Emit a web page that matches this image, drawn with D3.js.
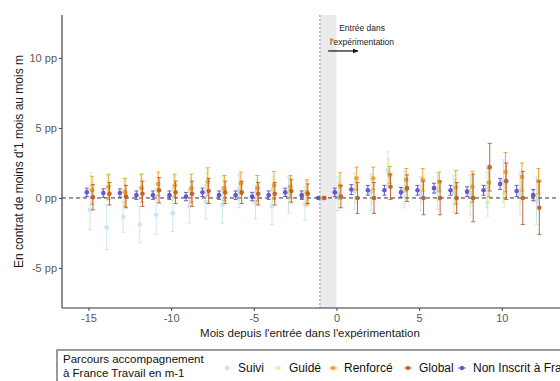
<!DOCTYPE html>
<html><head><meta charset="utf-8">
<script src="https://cdn.jsdelivr.net/npm/d3@7"></script>
<style>body{margin:0;background:#fff;overflow:hidden}svg{display:block;font-family:"Liberation Sans",Arial,sans-serif}</style>
</head><body><svg id="c" width="560" height="381"></svg>
<script>
const months = [-15,-14,-13,-12,-11,-10,-9,-8,-7,-6,-5,-4,-3,-2,-1,0,1,2,3,4,5,6,7,8,9,10,11,12];
const seriesNames = ["Suivi","Guidé","Renforcé","Global","Non Inscrit à France Travail"];
const suiviVal = [-0.85,-2.1,-1.35,-1.9,-1.2,-1.1,-0.6,-0.3,-0.5,0.5,-0.3,-0.6,0.2,-0.4,0,0.3,0.5,0.4,2.0,0.6,0.3,0.5,0.3,0.2,0.8,1.2,0.3,-0.2];
const suiviErr = [1.4,1.6,1.1,1.3,1.4,1.3,1.2,1.2,1.3,1.2,1.2,1.3,1.3,1.2,0,1.2,1.3,1.3,1.3,1.3,1.2,1.3,1.3,1.4,1.5,1.5,1.5,1.7];
const guideVal = [0.9,0.7,0.5,0.8,0.6,0.7,0.5,0.9,0.6,0.7,0.4,0.6,0.5,0.3,0,0.2,0.6,0.5,1.8,0.5,0.6,0.7,0.4,0.5,-0.3,0.3,0.6,0.2];
const guideErr = [0.9,0.9,0.9,0.9,0.9,0.9,0.9,0.9,0.9,0.9,0.9,0.9,0.9,0.9,0,0.9,0.9,0.9,1.0,0.9,0.9,0.9,0.9,1.0,1.0,1.0,1.0,1.0];
const renforceVal = [0.55,0.8,0.4,0.7,1.0,0.9,0.7,1.15,0.7,1.05,0.7,0.9,0.8,0.4,0,0.85,1.4,1.4,1.65,1.3,1.3,1.15,0.75,0.8,1.1,1.85,1.5,1.2];
const renforceErr = [1.0,0.9,1.0,1.0,0.85,0.8,1.0,1.0,0.9,0.8,0.9,1.0,0.8,0.9,0,0.95,0.8,0.8,0.6,0.8,0.8,0.7,1.2,1.1,1.0,1.4,1.0,0.9];
const globalVal = [0.05,0.3,0.1,0.3,0.55,0.4,0.3,0.5,0.4,0.4,0.3,0.3,0.5,0.3,0,0.1,0.0,0.0,0.8,0.7,0.0,0.0,0.0,0.0,2.2,1.2,0.0,-0.7];
const globalErr = [0.9,0.8,0.8,0.9,0.9,0.8,0.9,0.9,0.8,0.8,0.8,0.8,0.8,0.7,0,0.8,1.1,1.1,0.9,0.95,1.2,1.2,1.1,1.7,1.7,1.3,1.9,1.9];
const nonInscritVal = [0.4,0.35,0.35,0.2,0.2,0.2,0.1,0.4,0.2,0.2,0.1,0.2,0.4,0.2,0,0.4,0.6,0.55,0.55,0.4,0.55,0.7,0.55,0.45,0.55,1.0,0.5,0.2];
const nonInscritErr = [0.3,0.3,0.3,0.3,0.3,0.3,0.3,0.3,0.3,0.3,0.3,0.3,0.3,0.3,0,0.3,0.35,0.35,0.35,0.35,0.35,0.35,0.35,0.35,0.35,0.4,0.4,0.4];
const xTicks = [-15,-10,-5,0,5,10];
const yTicks = [-5,0,5,10];
const yTickLabels = ["-5 pp","0 pp","5 pp","10 pp"];

const vals = [suiviVal, guideVal, renforceVal, globalVal, nonInscritVal];
const errs = [suiviErr, guideErr, renforceErr, globalErr, nonInscritErr];
const colors = ["#8ecae6","#d6dc6a","#f39a1c","#c0561b","#4f3bc4"];
const opac = [0.45,0.5,0.9,0.9,0.85];
const dodge = [0.1,0.15,0.22,0.27,-0.1];

const svg = d3.select("#c");
const L = 62, R = 558, T = 15, B = 308;
const x = d3.scaleLinear().domain([-16.6, 13.4]).range([L, R]);
const y = d3.scaleLinear().domain([-7.86, 13.07]).range([B, T]);

svg.append("rect").attr("x", x(-1)).attr("y", T).attr("width", x(0) - x(-1)).attr("height", B - T).attr("fill", "#ebebeb");
svg.append("line").attr("x1", x(-1)).attr("x2", x(-1)).attr("y1", T).attr("y2", B)
  .attr("stroke", "#8a8a8a").attr("stroke-width", 1).attr("stroke-dasharray", "2,2");
svg.append("line").attr("x1", L).attr("x2", R).attr("y1", y(0)).attr("y2", y(0))
  .attr("stroke", "#333").attr("stroke-width", 1).attr("stroke-dasharray", "4,3");

const g = svg.append("g");
vals.forEach((v, si) => {
  const s = g.append("g").attr("opacity", opac[si]);
  months.forEach((m, i) => {
    const cx = x(m + dodge[si]);
    const e = errs[si][i];
    if (e > 0) {
      s.append("line").attr("x1", cx).attr("x2", cx).attr("y1", y(v[i] - e)).attr("y2", y(v[i] + e))
        .attr("stroke", colors[si]).attr("stroke-width", 1);
      [v[i] - e, v[i] + e].forEach(yy => s.append("line").attr("x1", cx - 2).attr("x2", cx + 2)
        .attr("y1", y(yy)).attr("y2", y(yy)).attr("stroke", colors[si]).attr("stroke-width", 1));
    }
    s.append("circle").attr("cx", cx).attr("cy", y(v[i])).attr("r", 2.3).attr("fill", colors[si]);
  });
});

const yAxis = d3.axisLeft(y).tickValues(yTicks).tickFormat((d, i) => yTickLabels[i]).tickSize(3).tickPadding(2);
const ya = svg.append("g").attr("transform", `translate(${L},0)`).call(yAxis);
const xAxis = d3.axisBottom(x).tickValues(xTicks).tickFormat(d => d < 0 ? "-" + Math.abs(d) : d).tickSize(3).tickPadding(3);
const xa = svg.append("g").attr("transform", `translate(0,${B})`).call(xAxis);
[ya, xa].forEach(a => {
  a.select(".domain").remove();
  a.selectAll(".tick line").attr("stroke", "#444");
  a.selectAll(".tick text").attr("fill", "#5a5a5a").style("font-size", "11px").style("font-family", "Liberation Sans, Arial, sans-serif");
});
svg.append("line").attr("x1", L).attr("x2", L).attr("y1", T).attr("y2", B).attr("stroke", "#333").attr("stroke-width", 1.1);
svg.append("line").attr("x1", L).attr("x2", R + 10).attr("y1", B).attr("y2", B).attr("stroke", "#333").attr("stroke-width", 1.1);

svg.append("text").attr("x", (L + R) / 2).attr("y", 337).attr("text-anchor", "middle")
  .style("font-size", "11.5px").attr("fill", "#1a1a1a").text("Mois depuis l'entrée dans l'expérimentation");
svg.append("text").attr("transform", `translate(23,${(T + B) / 2}) rotate(-90)`).attr("text-anchor", "middle")
  .style("font-size", "12px").attr("fill", "#1a1a1a").text("En contrat de moins d'1 mois au mois m");

svg.append("defs").append("marker").attr("id", "ah").attr("viewBox", "0 0 10 10").attr("refX", 9).attr("refY", 5)
  .attr("markerWidth", 5).attr("markerHeight", 5).attr("orient", "auto")
  .append("path").attr("d", "M0,1 L10,5 L0,9 Z").attr("fill", "#111");
svg.append("line").attr("x1", x(-0.5)).attr("x2", x(1.3)).attr("y1", y(10.5)).attr("y2", y(10.5))
  .attr("stroke", "#111").attr("stroke-width", 1.2).attr("marker-end", "url(#ah)");
svg.append("text").attr("x", x(1.55)).attr("y", y(11.95)).attr("text-anchor", "middle").style("font-size", "8.5px").attr("fill", "#222").text("Entrée dans");
svg.append("text").attr("x", x(1.55)).attr("y", y(10.95)).attr("text-anchor", "middle").style("font-size", "8.5px").attr("fill", "#222").text("l'expérimentation");

const lg = svg.append("g");
lg.append("rect").attr("x", 57).attr("y", 350).attr("width", 560).attr("height", 45)
  .attr("fill", "#fff").attr("stroke", "#7a7a7a").attr("stroke-width", 1.5);
lg.append("text").attr("x", 63).attr("y", 363).style("font-size", "11.5px").attr("fill", "#111").text("Parcours accompagnement");
lg.append("text").attr("x", 63).attr("y", 377).style("font-size", "11.5px").attr("fill", "#111").text(" à France Travail en m-1");
const keyX = [227, 278, 333, 408, 462];
seriesNames.forEach((n, i) => {
  const k = lg.append("g").attr("opacity", opac[i]);
  k.append("line").attr("x1", keyX[i] - 4).attr("x2", keyX[i] + 4).attr("y1", 368).attr("y2", 368).attr("stroke", colors[i]).attr("stroke-width", 1);
  k.append("circle").attr("cx", keyX[i]).attr("cy", 368).attr("r", 2.2).attr("fill", colors[i]);
  lg.append("text").attr("x", keyX[i] + 11).attr("y", 372).style("font-size", "12px").attr("fill", "#111").text(n);
});
</script></body></html>
